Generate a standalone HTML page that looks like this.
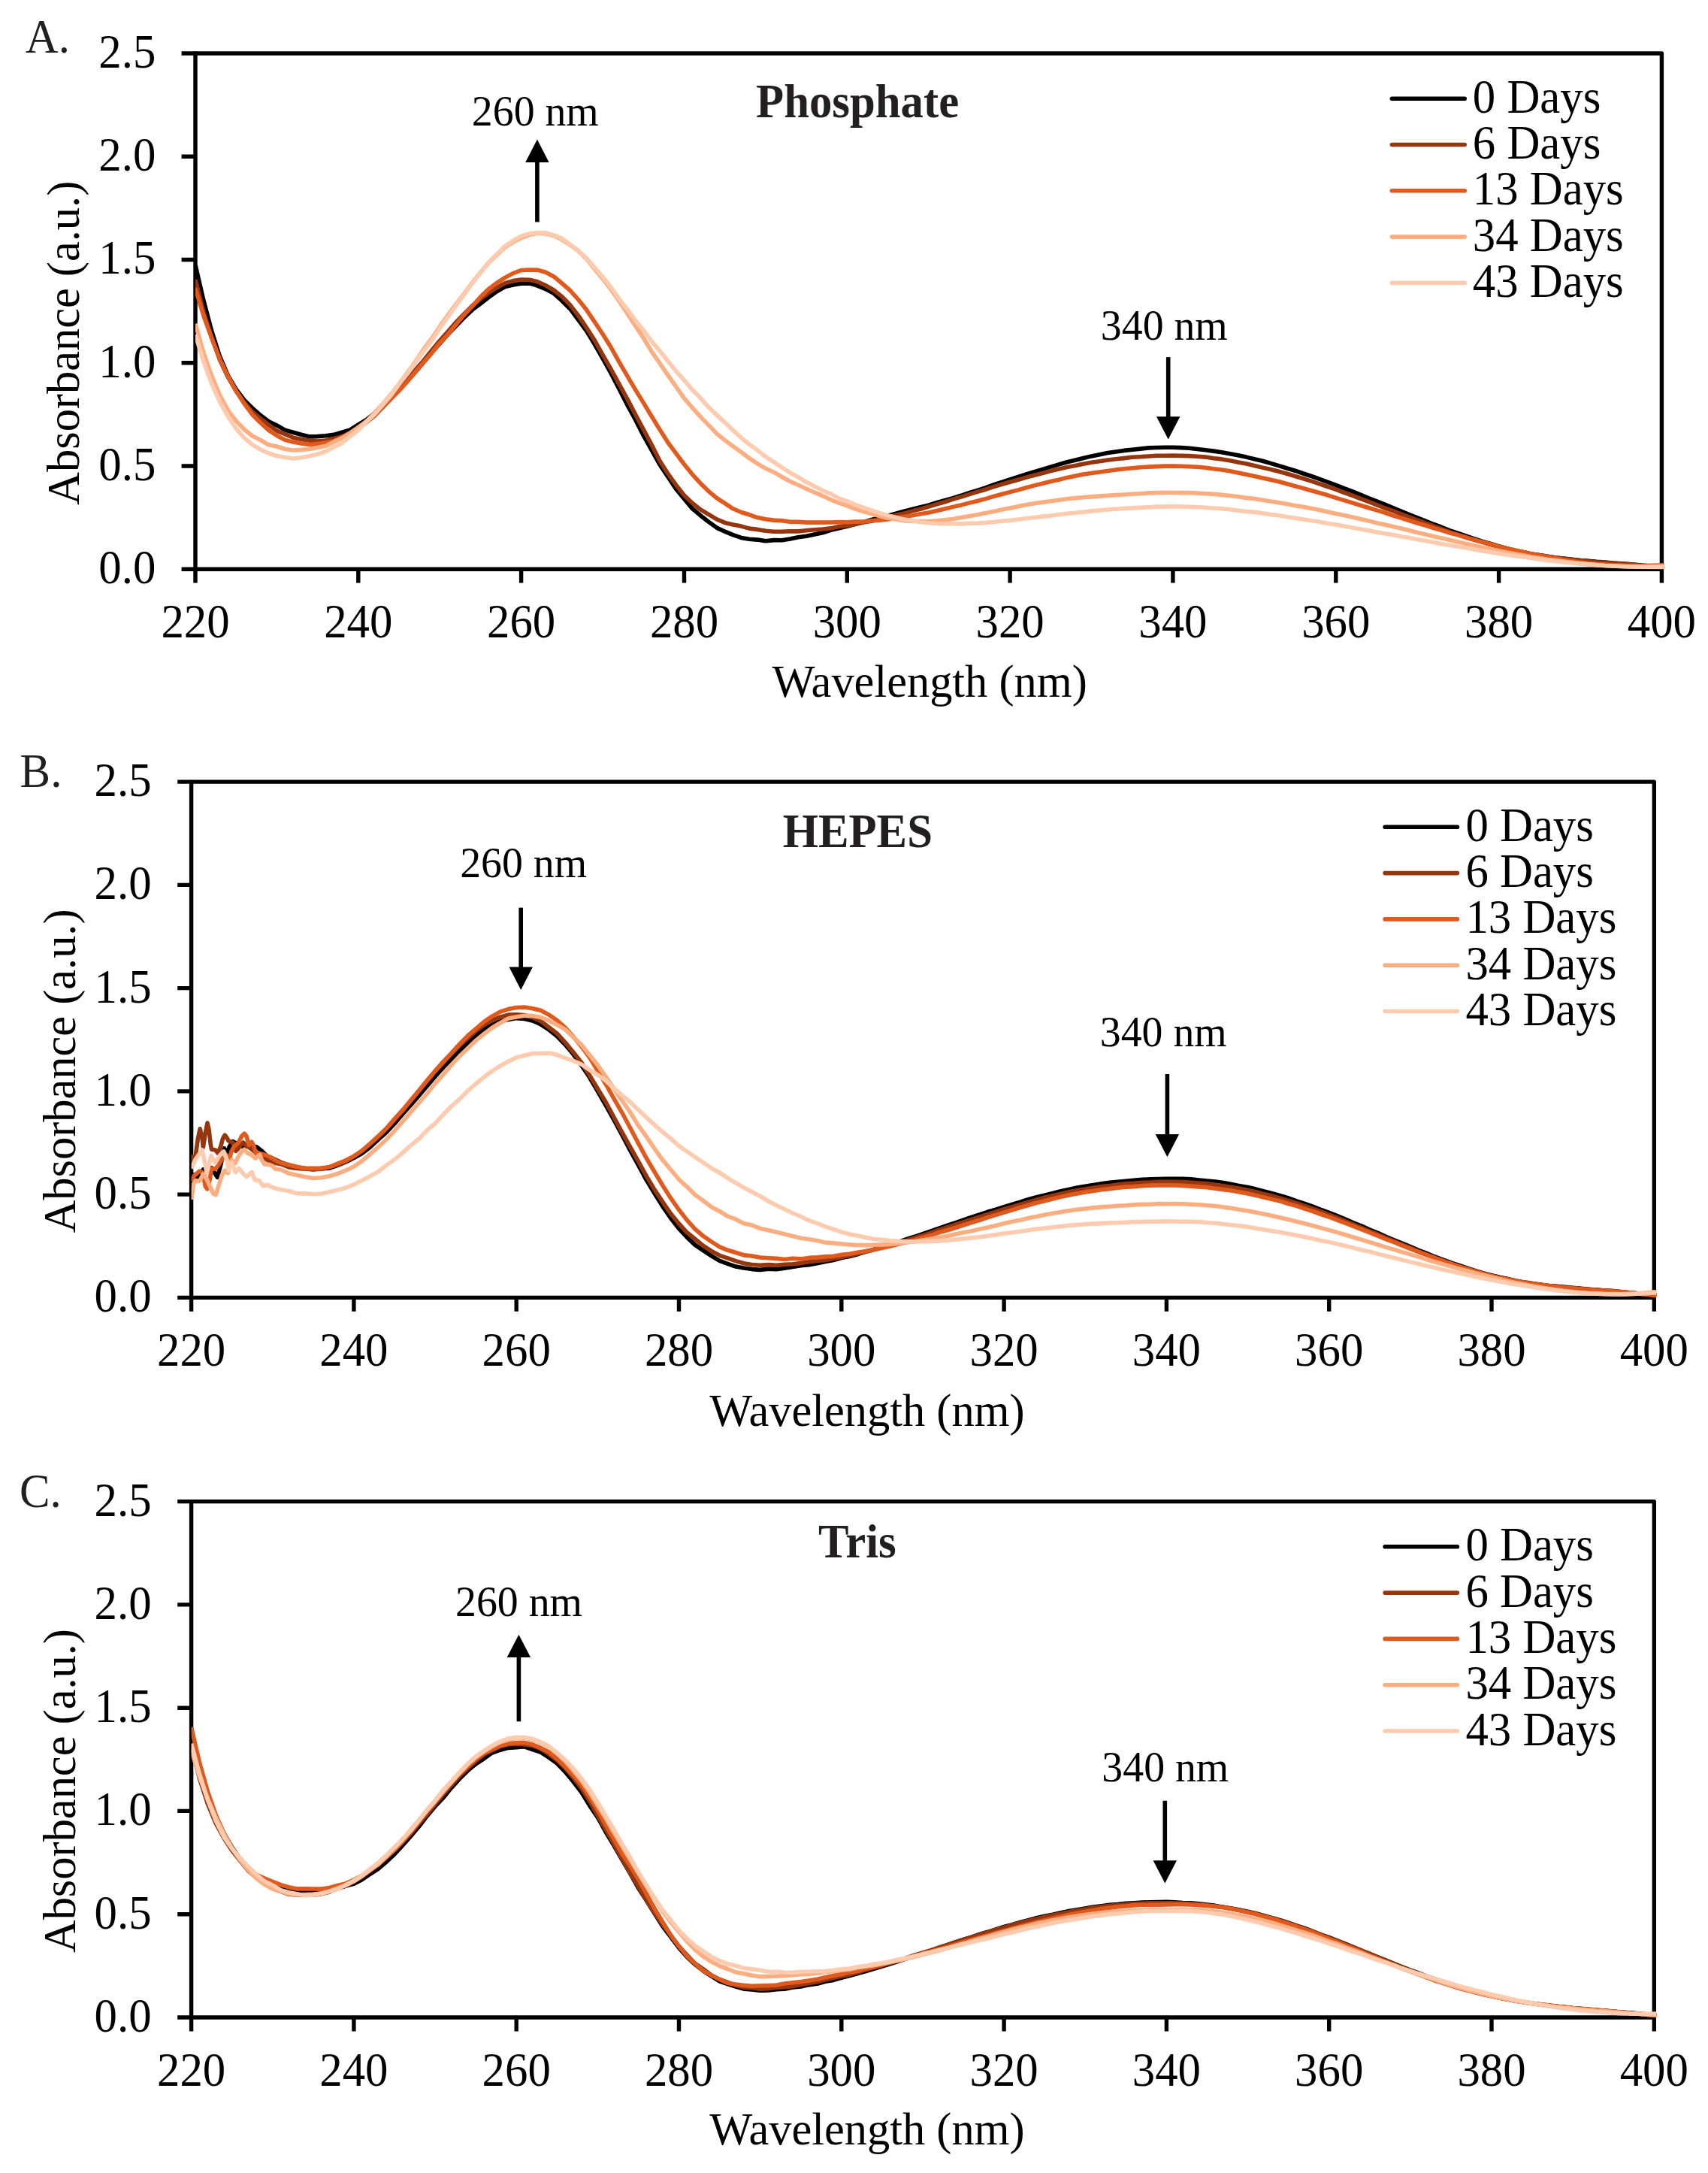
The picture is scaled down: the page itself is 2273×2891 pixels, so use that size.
<!DOCTYPE html>
<html lang="en"><head><meta charset="utf-8"><title>NADH stability spectra</title>
<style>html,body{margin:0;padding:0;background:#fff}svg{display:block}text{font-family:"Liberation Serif",serif;font-size:60.8px;fill:#000}.an{font-size:55.8px}.al{font-size:60.4px}.ti{font-weight:bold;fill:#231f20}.ax{stroke:#000;stroke-width:5.4;fill:none}.cv{fill:none;stroke-width:5.6;stroke-linejoin:round;stroke-linecap:butt}.lg{stroke-width:5.6;stroke-linecap:round}.pl{fill:#231f20}</style></head><body>
<svg width="2273" height="2891" viewBox="0 0 2273 2891">
<rect width="2273" height="2891" fill="#fff"/>
<g id="panelA">
<clipPath id="cpA"><rect x="260" y="71" width="1957.4" height="686.2"/></clipPath>
<rect class="ax" x="260" y="71" width="1951.4" height="686.2" stroke-linejoin="round"/>
<path class="ax" d="M241.6,757.2H260M241.6,620H260M241.6,482.7H260M241.6,345.5H260M241.6,208.2H260M241.6,71H260M260,757.2V775.6M476.8,757.2V775.6M693.6,757.2V775.6M910.5,757.2V775.6M1127.3,757.2V775.6M1344.1,757.2V775.6M1560.9,757.2V775.6M1777.8,757.2V775.6M1994.6,757.2V775.6M2211.4,757.2V775.6"/>
<g clip-path="url(#cpA)">
<path class="cv" stroke="#000000" d="M260,352.7 270.8,399.3 281.7,440.4 292.5,474.3 303.4,499.7 314.2,518 325,532.3 335.9,543 346.7,552.5 357.6,560.7 368.4,565.9 379.3,572.1 390.1,575.2 400.9,578.2 411.8,580.9 422.6,580.6 433.5,579.8 444.3,578.4 455.1,575.2 466,571.8 476.8,564.8 487.7,558.4 498.5,549.7 509.3,540.8 520.2,529.5 531,517.9 541.9,505.9 552.7,494.9 563.6,482.2 574.4,468.8 585.2,457.1 596.1,444.8 606.9,433.6 617.8,422.3 628.6,412.1 639.4,404 650.3,395.6 661.1,387.8 672,381.5 682.8,379.1 693.6,377.2 704.5,376.9 715.3,380.1 726.2,384.6 737,390.4 747.9,400.2 758.7,410.9 769.5,425.2 780.4,440 791.2,457.8 802.1,476.8 812.9,496.2 823.7,517 834.6,538.3 845.4,558 856.3,579.4 867.1,598.7 877.9,617.9 888.8,634.2 899.6,650.5 910.5,663.6 921.3,676.6 932.1,685.7 943,694.2 953.8,702.1 964.7,707.2 975.5,711.7 986.4,715.4 997.2,717.3 1008,718.1 1018.9,719.8 1029.7,718.6 1040.6,718.8 1051.4,717 1062.2,714.8 1073.1,713.3 1083.9,711 1094.8,708.8 1105.6,705.3 1116.4,702.7 1127.3,700.2 1138.1,697.2 1149,694.6 1159.8,691.4 1170.7,688.6 1181.5,686.2 1192.3,683.2 1203.2,680.3 1214,677.5 1224.9,674.7 1235.7,672.1 1246.5,668.7 1257.4,665.6 1268.2,662.6 1279.1,659.3 1289.9,655.6 1300.7,652.4 1311.6,649 1322.4,645 1333.3,641.5 1344.1,637.8 1355,634.4 1365.8,630.9 1376.6,627.6 1387.5,624.4 1398.3,621.1 1409.2,617.9 1420,614.8 1430.8,612.2 1441.7,609.5 1452.5,606.9 1463.4,604.7 1474.2,602.6 1485,601 1495.9,599.4 1506.7,598.3 1517.6,597.1 1528.4,595.9 1539.3,595.5 1550.1,595.3 1560.9,595.2 1571.8,595.6 1582.6,596.3 1593.5,597.5 1604.3,598.7 1615.1,600.1 1626,601.7 1636.8,603.8 1647.7,605.7 1658.5,608.1 1669.3,610.8 1680.2,613.3 1691,616.4 1701.9,619.6 1712.7,623 1723.5,626.2 1734.4,630 1745.2,633.5 1756.1,637.3 1766.9,641.3 1777.8,645.3 1788.6,649.7 1799.4,653.7 1810.3,658.2 1821.1,662.5 1832,666.8 1842.8,671.2 1853.6,675.6 1864.5,680.1 1875.3,684.6 1886.2,688.9 1897,693.2 1907.8,697.5 1918.7,701.5 1929.5,705.8 1940.4,709.5 1951.2,713.1 1962.1,716.8 1972.9,720.4 1983.7,723.5 1994.6,726.8 2005.4,729.6 2016.3,732.4 2027.1,734.6 2037.9,736.9 2048.8,738.6 2059.6,740.2 2070.5,742 2081.3,743.1 2092.1,744.3 2103,745.5 2113.8,746.3 2124.7,747.4 2135.5,748.1 2146.4,749.1 2157.2,749.7 2168,750.5 2178.9,751.6 2189.7,752.5 2200.6,753.3 2211.4,754.6 2214.4,754.9"/>
<path class="cv" stroke="#96360f" d="M260,372.3 270.8,414.8 281.7,448.8 292.5,478.7 303.4,501.7 314.2,520.2 325,535.3 335.9,548 346.7,556.9 357.6,565.3 368.4,573.1 379.3,577.7 390.1,582.2 400.9,584.6 411.8,586.1 422.6,587 433.5,586 444.3,583.4 455.1,580.7 466,575.6 476.8,568.5 487.7,560.1 498.5,550.8 509.3,541.8 520.2,529.4 531,518.2 541.9,505.1 552.7,492.3 563.6,479.8 574.4,466.3 585.2,453.3 596.1,441.2 606.9,428.7 617.8,417.4 628.6,406.7 639.4,397.8 650.3,389.6 661.1,382.7 672,376.6 682.8,373.6 693.6,372 704.5,372.2 715.3,374.7 726.2,379.8 737,386 747.9,394.6 758.7,405.7 769.5,419.6 780.4,435.9 791.2,452.6 802.1,472 812.9,490.8 823.7,510.6 834.6,530.4 845.4,551.1 856.3,571.4 867.1,591.5 877.9,613 888.8,630 899.6,645.2 910.5,658.9 921.3,669.3 932.1,677.9 943,684.4 953.8,690.8 964.7,695.4 975.5,697.9 986.4,700.1 997.2,703.1 1008,704.4 1018.9,706.2 1029.7,707.3 1040.6,707.3 1051.4,706.7 1062.2,706.9 1073.1,705.7 1083.9,704.7 1094.8,704 1105.6,702.9 1116.4,700.6 1127.3,699.4 1138.1,697.5 1149,695 1159.8,693.2 1170.7,690.8 1181.5,688 1192.3,685.2 1203.2,683.1 1214,679.9 1224.9,677.3 1235.7,674.1 1246.5,670.9 1257.4,667.8 1268.2,664.2 1279.1,661.1 1289.9,657.6 1300.7,654.4 1311.6,651.2 1322.4,647.6 1333.3,644.3 1344.1,641.2 1355,638.2 1365.8,635.1 1376.6,632.3 1387.5,629.6 1398.3,626.6 1409.2,624.1 1420,621.5 1430.8,619.6 1441.7,617.3 1452.5,615.3 1463.4,613.7 1474.2,612 1485,610.7 1495.9,609.6 1506.7,608.3 1517.6,607.7 1528.4,607 1539.3,606.3 1550.1,606.2 1560.9,606 1571.8,606.4 1582.6,606.6 1593.5,607.2 1604.3,608.1 1615.1,609.7 1626,610.9 1636.8,612.7 1647.7,614.9 1658.5,617 1669.3,619.5 1680.2,622.1 1691,624.5 1701.9,627.3 1712.7,630.3 1723.5,633.5 1734.4,636.8 1745.2,640.2 1756.1,643.9 1766.9,647.5 1777.8,651.2 1788.6,655.3 1799.4,659.1 1810.3,663.3 1821.1,667.3 1832,671.6 1842.8,675.8 1853.6,679.7 1864.5,683.9 1875.3,687.9 1886.2,692.1 1897,696 1907.8,700 1918.7,703.8 1929.5,707.8 1940.4,711.3 1951.2,714.9 1962.1,718.4 1972.9,721.3 1983.7,724.5 1994.6,727.6 2005.4,730.3 2016.3,732.8 2027.1,734.8 2037.9,737.2 2048.8,738.7 2059.6,740.5 2070.5,742.1 2081.3,743.4 2092.1,744.5 2103,745.6 2113.8,746.9 2124.7,747.8 2135.5,748.4 2146.4,749.4 2157.2,750 2168,750.9 2178.9,751.8 2189.7,753 2200.6,753.7 2211.4,754.9 2214.4,755.2"/>
<path class="cv" stroke="#e05a1e" d="M260,383.3 270.8,419.7 281.7,449.9 292.5,477.9 303.4,500.5 314.2,520.3 325,537 335.9,551.7 346.7,562.5 357.6,572.4 368.4,579.5 379.3,585.4 390.1,588 400.9,590 411.8,591.6 422.6,590.4 433.5,588.8 444.3,586.8 455.1,582.1 466,575.8 476.8,569.8 487.7,561.7 498.5,553.2 509.3,541.9 520.2,530.9 531,519.8 541.9,507.9 552.7,495.1 563.6,482.3 574.4,470.1 585.2,456.6 596.1,444.9 606.9,431.8 617.8,418.8 628.6,407.4 639.4,395 650.3,384.6 661.1,376.4 672,369.4 682.8,363.6 693.6,359.5 704.5,359 715.3,359.1 726.2,362.3 737,367.9 747.9,377 758.7,386.4 769.5,398.5 780.4,412.1 791.2,428.1 802.1,444.5 812.9,461.8 823.7,481.1 834.6,499.8 845.4,518.2 856.3,535.9 867.1,553.8 877.9,571.4 888.8,588.6 899.6,603.2 910.5,617.8 921.3,631.1 932.1,642.9 943,653.6 953.8,662.6 964.7,669.7 975.5,676.8 986.4,681.5 997.2,684.8 1008,688.6 1018.9,690.8 1029.7,692.1 1040.6,692.7 1051.4,694.2 1062.2,694.2 1073.1,695.1 1083.9,695.1 1094.8,695.1 1105.6,695 1116.4,694.6 1127.3,694.7 1138.1,694.1 1149,694 1159.8,692.8 1170.7,692.1 1181.5,691 1192.3,689.1 1203.2,687.5 1214,685.8 1224.9,683.8 1235.7,681.9 1246.5,679.5 1257.4,677 1268.2,674.4 1279.1,671.9 1289.9,669.1 1300.7,666.5 1311.6,663.6 1322.4,660.4 1333.3,657.5 1344.1,654.6 1355,651.9 1365.8,648.8 1376.6,645.9 1387.5,643.2 1398.3,640.5 1409.2,638.2 1420,635.4 1430.8,633.2 1441.7,631.1 1452.5,629.4 1463.4,627.9 1474.2,626.4 1485,624.9 1495.9,623.8 1506.7,622.7 1517.6,621.7 1528.4,621.1 1539.3,620.6 1550.1,620.1 1560.9,620.1 1571.8,620.3 1582.6,620.8 1593.5,621.3 1604.3,622.2 1615.1,623.8 1626,625 1636.8,626.8 1647.7,628.9 1658.5,631.2 1669.3,633.5 1680.2,635.9 1691,638.3 1701.9,640.8 1712.7,643.7 1723.5,646.7 1734.4,649.6 1745.2,652.8 1756.1,655.8 1766.9,658.8 1777.8,662.3 1788.6,665.6 1799.4,668.9 1810.3,672.2 1821.1,675.5 1832,678.9 1842.8,682 1853.6,685.8 1864.5,689.2 1875.3,692.5 1886.2,696 1897,699 1907.8,702.5 1918.7,705.6 1929.5,709 1940.4,711.9 1951.2,715.2 1962.1,718.2 1972.9,721.2 1983.7,724 1994.6,726.9 2005.4,729.6 2016.3,732.1 2027.1,734.4 2037.9,736.9 2048.8,738.9 2059.6,740.8 2070.5,742.8 2081.3,744.7 2092.1,746.2 2103,747.9 2113.8,749.2 2124.7,750.2 2135.5,750.9 2146.4,751.8 2157.2,752.1 2168,752.5 2178.9,752.7 2189.7,752.5 2200.6,752.2 2211.4,751.9 2214.4,752.2"/>
<path class="cv" stroke="#fdae80" d="M260,430.7 270.8,469.3 281.7,500.2 292.5,525.9 303.4,545.9 314.2,560.1 325,571.3 335.9,580 346.7,585.5 357.6,591.8 368.4,594 379.3,597.5 390.1,599 400.9,598.4 411.8,597.5 422.6,595.4 433.5,593.2 444.3,587.9 455.1,582.9 466,576.3 476.8,568.4 487.7,560.6 498.5,549.1 509.3,537.5 520.2,524.9 531,510.8 541.9,496.3 552.7,481.4 563.6,464.7 574.4,450.5 585.2,434.6 596.1,419.1 606.9,404.6 617.8,390.4 628.6,375.8 639.4,362.5 650.3,349.6 661.1,339.2 672,328.9 682.8,322.1 693.6,316.4 704.5,312.5 715.3,310.1 726.2,310.9 737,313.7 747.9,318.8 758.7,325.9 769.5,333.8 780.4,344.4 791.2,357.7 802.1,370.9 812.9,384.8 823.7,400.1 834.6,416.6 845.4,433.1 856.3,449.6 867.1,467.6 877.9,483.1 888.8,499.1 899.6,514.3 910.5,529.9 921.3,542.3 932.1,554.4 943,565.6 953.8,576.9 964.7,585.8 975.5,593.7 986.4,601.6 997.2,609.7 1008,616.8 1018.9,623.3 1029.7,628.2 1040.6,634.5 1051.4,640.5 1062.2,645.2 1073.1,650.2 1083.9,655.2 1094.8,659.7 1105.6,664.8 1116.4,669.2 1127.3,672.9 1138.1,677.2 1149,680.6 1159.8,683.6 1170.7,686.5 1181.5,689.3 1192.3,690.7 1203.2,692.7 1214,693.5 1224.9,693.5 1235.7,693.7 1246.5,692.9 1257.4,691.8 1268.2,690.5 1279.1,688.6 1289.9,686.7 1300.7,684.7 1311.6,682.6 1322.4,680.5 1333.3,678 1344.1,676 1355,673.8 1365.8,671.6 1376.6,669.8 1387.5,668.2 1398.3,666.7 1409.2,665.3 1420,663.8 1430.8,662.6 1441.7,661.8 1452.5,660.9 1463.4,660.1 1474.2,659.2 1485,658.6 1495.9,658 1506.7,657.3 1517.6,656.7 1528.4,655.9 1539.3,655.7 1550.1,655.4 1560.9,655.5 1571.8,655.6 1582.6,655.5 1593.5,656.1 1604.3,656.8 1615.1,657.4 1626,658.4 1636.8,659.5 1647.7,660.7 1658.5,662.4 1669.3,663.5 1680.2,665.2 1691,667.1 1701.9,668.7 1712.7,670.4 1723.5,672.7 1734.4,674.3 1745.2,676.6 1756.1,678.6 1766.9,681.1 1777.8,683.4 1788.6,685.5 1799.4,687.9 1810.3,690.5 1821.1,692.9 1832,695.7 1842.8,698.1 1853.6,700.6 1864.5,703.1 1875.3,705.7 1886.2,708.5 1897,710.9 1907.8,713.7 1918.7,716.1 1929.5,718.6 1940.4,720.9 1951.2,723.6 1962.1,726 1972.9,728.2 1983.7,730.6 1994.6,732.7 2005.4,735 2016.3,737 2027.1,738.7 2037.9,740.9 2048.8,742.4 2059.6,744.3 2070.5,745.6 2081.3,747.1 2092.1,748.3 2103,749.7 2113.8,750.7 2124.7,751.7 2135.5,752.5 2146.4,753 2157.2,753.5 2168,753.8 2178.9,753.8 2189.7,753.9 2200.6,753.5 2211.4,753.1 2214.4,753.4"/>
<path class="cv" stroke="#fecbaf" d="M260,444.9 270.8,480.9 281.7,510.7 292.5,534.4 303.4,554.2 314.2,570.2 325,582.6 335.9,591.6 346.7,598.2 357.6,603 368.4,606.5 379.3,608.5 390.1,610.1 400.9,608.7 411.8,606.8 422.6,604.3 433.5,600.5 444.3,594.7 455.1,589.4 466,580.5 476.8,572.2 487.7,561.3 498.5,551.2 509.3,538.6 520.2,526 531,511.1 541.9,497.5 552.7,482.5 563.6,467.3 574.4,453.4 585.2,436.7 596.1,421.7 606.9,406.3 617.8,391.5 628.6,376.6 639.4,362.8 650.3,349.1 661.1,338.4 672,327.3 682.8,320.3 693.6,314.2 704.5,310.9 715.3,309.7 726.2,309.8 737,313 747.9,317.2 758.7,325.2 769.5,333.3 780.4,343.6 791.2,355.9 802.1,368.3 812.9,382 823.7,397.4 834.6,411.2 845.4,426.2 856.3,439.3 867.1,453.9 877.9,466.9 888.8,480.4 899.6,493.8 910.5,505.9 921.3,518.6 932.1,529.3 943,541.8 953.8,552.1 964.7,562.1 975.5,572.5 986.4,582.4 997.2,591.3 1008,599.1 1018.9,607.7 1029.7,614.7 1040.6,622 1051.4,628.9 1062.2,634.7 1073.1,641.6 1083.9,646.9 1094.8,652.6 1105.6,657.1 1116.4,662.9 1127.3,666.9 1138.1,671.3 1149,675.4 1159.8,679 1170.7,682.6 1181.5,685.9 1192.3,688.5 1203.2,691.1 1214,692.8 1224.9,694.5 1235.7,695.8 1246.5,696.5 1257.4,696.9 1268.2,696.8 1279.1,696.9 1289.9,696.3 1300.7,696.1 1311.6,695.4 1322.4,694.5 1333.3,693.3 1344.1,692.4 1355,691 1365.8,689.7 1376.6,688.5 1387.5,687.1 1398.3,686.2 1409.2,684.5 1420,683.3 1430.8,682.2 1441.7,681.2 1452.5,679.9 1463.4,679 1474.2,678 1485,677.2 1495.9,676.5 1506.7,675.9 1517.6,675.4 1528.4,674.7 1539.3,674 1550.1,674.1 1560.9,673.9 1571.8,674 1582.6,674.3 1593.5,674.5 1604.3,675.2 1615.1,676 1626,676.8 1636.8,677.8 1647.7,679.3 1658.5,680.5 1669.3,681.4 1680.2,682.8 1691,684.6 1701.9,685.7 1712.7,687.7 1723.5,689.2 1734.4,691 1745.2,692.8 1756.1,694.2 1766.9,696.4 1777.8,697.9 1788.6,700 1799.4,702 1810.3,703.9 1821.1,705.7 1832,707.9 1842.8,709.7 1853.6,711.5 1864.5,713.8 1875.3,715.4 1886.2,717.7 1897,719.4 1907.8,721.4 1918.7,723.7 1929.5,725.4 1940.4,727.3 1951.2,729.1 1962.1,730.9 1972.9,732.9 1983.7,734.6 1994.6,736.5 2005.4,738 2016.3,739.7 2027.1,741 2037.9,742.5 2048.8,744.2 2059.6,745.6 2070.5,746.8 2081.3,748 2092.1,749 2103,749.9 2113.8,750.8 2124.7,751.6 2135.5,752.5 2146.4,753 2157.2,753.5 2168,754 2178.9,754.2 2189.7,754.6 2200.6,754.9 2211.4,754.6 2214.4,754.9"/>
</g>
<text transform="translate(207.3,776.1) scale(1,1.03)" text-anchor="end">0.0</text>
<text transform="translate(207.3,638.9) scale(1,1.03)" text-anchor="end">0.5</text>
<text transform="translate(207.3,501.6) scale(1,1.03)" text-anchor="end">1.0</text>
<text transform="translate(207.3,364.4) scale(1,1.03)" text-anchor="end">1.5</text>
<text transform="translate(207.3,227.1) scale(1,1.03)" text-anchor="end">2.0</text>
<text transform="translate(207.3,89.9) scale(1,1.03)" text-anchor="end">2.5</text>
<text transform="translate(260,847.7) scale(1,1.03)" text-anchor="middle">220</text>
<text transform="translate(476.8,847.7) scale(1,1.03)" text-anchor="middle">240</text>
<text transform="translate(693.6,847.7) scale(1,1.03)" text-anchor="middle">260</text>
<text transform="translate(910.5,847.7) scale(1,1.03)" text-anchor="middle">280</text>
<text transform="translate(1127.3,847.7) scale(1,1.03)" text-anchor="middle">300</text>
<text transform="translate(1344.1,847.7) scale(1,1.03)" text-anchor="middle">320</text>
<text transform="translate(1560.9,847.7) scale(1,1.03)" text-anchor="middle">340</text>
<text transform="translate(1777.8,847.7) scale(1,1.03)" text-anchor="middle">360</text>
<text transform="translate(1994.6,847.7) scale(1,1.03)" text-anchor="middle">380</text>
<text transform="translate(2211.4,847.7) scale(1,1.03)" text-anchor="middle">400</text>
<text transform="translate(1237.1,926.7) scale(1,1.03)" class="al" text-anchor="middle">Wavelength (nm)</text>
<text transform="translate(104.7,456.2) rotate(-90) scale(1,1.03)" class="al" text-anchor="middle">Absorbance (a.u.)</text>
<text transform="translate(33.8,70.3) scale(1,1.03)" class="pl">A.</text>
<text transform="translate(1141.1,156.4) scale(1,1.03)" class="ti" text-anchor="middle">Phosphate</text>
<text transform="translate(712.3,166.6) scale(1,1.03)" class="an" text-anchor="middle">260 nm</text>
<path d="M714.9,295.4V214.9" stroke="#000" stroke-width="5.6" fill="none"/>
<path d="M714.9,185.6L699.2,215.9L730.6,215.9Z" fill="#000"/>
<text transform="translate(1549.3,451.7) scale(1,1.03)" class="an" text-anchor="middle">340 nm</text>
<path d="M1554.7,475.1V555.3" stroke="#000" stroke-width="5.6" fill="none"/>
<path d="M1554.7,584.6L1539,554.3L1570.4,554.3Z" fill="#000"/>
<path class="lg" stroke="#000000" d="M1852.4,131.2H1949.2"/>
<text transform="translate(1959.8,149.7) scale(1,1.03)">0 Days</text>
<path class="lg" stroke="#96360f" d="M1852.4,192.5H1949.2"/>
<text transform="translate(1959.8,211) scale(1,1.03)">6 Days</text>
<path class="lg" stroke="#e05a1e" d="M1852.4,253.8H1949.2"/>
<text transform="translate(1959.8,272.3) scale(1,1.03)">13 Days</text>
<path class="lg" stroke="#fdae80" d="M1852.4,315.1H1949.2"/>
<text transform="translate(1959.8,333.6) scale(1,1.03)">34 Days</text>
<path class="lg" stroke="#fecbaf" d="M1852.4,376.4H1949.2"/>
<text transform="translate(1959.8,394.9) scale(1,1.03)">43 Days</text>
</g>
<g id="panelB">
<clipPath id="cpB"><rect x="254.6" y="1040.1" width="1952.7" height="686.3"/></clipPath>
<rect class="ax" x="254.6" y="1040.1" width="1946.7" height="686.3" stroke-linejoin="round"/>
<path class="ax" d="M236.2,1726.4H254.6M236.2,1589.1H254.6M236.2,1451.9H254.6M236.2,1314.6H254.6M236.2,1177.4H254.6M236.2,1040.1H254.6M254.6,1726.4V1744.8M470.9,1726.4V1744.8M687.2,1726.4V1744.8M903.5,1726.4V1744.8M1119.8,1726.4V1744.8M1336.1,1726.4V1744.8M1552.4,1726.4V1744.8M1768.7,1726.4V1744.8M1985,1726.4V1744.8M2201.3,1726.4V1744.8"/>
<g clip-path="url(#cpB)">
<path class="cv" stroke="#000000" d="M254.6,1564.3 258.4,1562.9 264.1,1568.5 270.4,1555.9 274.6,1560.8 281.6,1553.8 289.3,1566.4 293.6,1550.3 298.5,1527.8 302,1535.5 305.5,1525 309.7,1518.6 316.7,1522.2 323.8,1525.7 330.8,1525 341.3,1525.7 348.4,1531.3 355.4,1538.3 362.4,1541.1 373.6,1546.4 384.4,1550.1 395.2,1552.9 406,1554.4 416.8,1555.7 427.6,1554.6 438.5,1554.1 449.3,1550.3 460.1,1546 470.9,1540.5 481.7,1534.5 492.5,1526.2 503.3,1516.1 514.2,1506.3 525,1494.9 535.8,1482.2 546.6,1470.2 557.4,1457.6 568.2,1445 579.1,1432.1 589.9,1420.1 600.7,1409.2 611.5,1398 622.3,1387.8 633.1,1377.9 643.9,1369.8 654.8,1363.5 665.6,1358.8 676.4,1356.6 687.2,1354.6 698,1355.5 708.8,1358 719.6,1362.8 730.5,1370 741.3,1378.5 752.1,1389.7 762.9,1402.5 773.7,1417.3 784.5,1433.3 795.4,1451.9 806.2,1470.7 817,1489.8 827.8,1509.8 838.6,1530.4 849.4,1549.9 860.2,1569.8 871.1,1587.7 881.9,1605.1 892.7,1620.7 903.5,1634.6 914.3,1646.1 925.1,1656.4 935.9,1663.6 946.8,1670.9 957.6,1677.4 968.4,1681.3 979.2,1685.1 990,1687 1000.8,1688.6 1011.7,1689.4 1022.5,1688.1 1033.3,1688.6 1044.1,1687.2 1054.9,1685.5 1065.7,1683.7 1076.5,1682.8 1087.4,1680.7 1098.2,1678.6 1109,1676.6 1119.8,1673.6 1130.6,1671.6 1141.4,1668.7 1152.2,1665.2 1163.1,1662.3 1173.9,1658.9 1184.7,1655.7 1195.5,1652.3 1206.3,1648.6 1217.1,1645.3 1228,1641.6 1238.8,1637.9 1249.6,1634.2 1260.4,1630.5 1271.2,1627 1282,1623.2 1292.8,1619.5 1303.7,1615.8 1314.5,1612.3 1325.3,1609.1 1336.1,1605.7 1346.9,1602.3 1357.7,1599.1 1368.5,1595.6 1379.4,1592.7 1390.2,1590.1 1401,1587.4 1411.8,1584.8 1422.6,1582.4 1433.4,1580.1 1444.2,1578.3 1455.1,1576.5 1465.9,1574.8 1476.7,1573.4 1487.5,1572.3 1498.3,1571.3 1509.1,1570.2 1520,1569.4 1530.8,1568.9 1541.6,1568.5 1552.4,1568.3 1563.2,1568.4 1574,1568.4 1584.8,1568.9 1595.7,1570 1606.5,1571.1 1617.3,1572.1 1628.1,1573.5 1638.9,1575.6 1649.7,1577.7 1660.6,1579.6 1671.4,1582.1 1682.2,1585 1693,1587.8 1703.8,1590.7 1714.6,1594 1725.4,1597.8 1736.3,1601.5 1747.1,1605.2 1757.9,1609.5 1768.7,1613.4 1779.5,1617.6 1790.3,1622.2 1801.1,1626.9 1812,1631.1 1822.8,1636.1 1833.6,1640.4 1844.4,1645.3 1855.2,1649.8 1866,1654.2 1876.9,1658.7 1887.7,1663.3 1898.5,1667.4 1909.3,1672 1920.1,1675.8 1930.9,1679.9 1941.7,1683.4 1952.6,1687.1 1963.4,1690.6 1974.2,1693.9 1985,1696.6 1995.8,1699.3 2006.6,1701.5 2017.4,1704 2028.3,1705.9 2039.1,1707.4 2049.9,1708.9 2060.7,1710.5 2071.5,1711.4 2082.3,1712.4 2093.2,1713.4 2104,1714.3 2114.8,1715.2 2125.6,1716.2 2136.4,1717 2147.2,1717.6 2158,1718.7 2168.9,1719.7 2179.7,1720.7 2190.5,1721.8 2201.3,1723.1 2204.3,1723.4"/>
<path class="cv" stroke="#96360f" d="M254.6,1536.2 257,1545.3 260.5,1536.2 263.3,1515.1 266.2,1501.8 269,1513.7 270.4,1526.4 273.2,1508.1 276,1494.1 278.1,1503.2 280.2,1522.2 281.6,1529.2 286.5,1529.9 290,1534.1 293.6,1525.7 296.4,1515.1 299.2,1510.2 302,1513.7 304.1,1517.9 309.7,1520 311.8,1525 313.9,1531.3 316.7,1528.5 320.3,1523.6 323.8,1520 327.3,1523.6 334.3,1528.5 341.3,1534.1 348.4,1538.3 355.4,1543.2 362.4,1546.4 373.6,1548.7 384.4,1552.9 395.2,1554.5 406,1555.3 416.8,1555.8 427.6,1555.2 438.5,1552.6 449.3,1549.8 460.1,1545.3 470.9,1538.6 481.7,1531.2 492.5,1522.1 503.3,1512.8 514.2,1501.6 525,1489.8 535.8,1477.8 546.6,1464.3 557.4,1451.4 568.2,1438.6 579.1,1425.3 589.9,1414 600.7,1401.8 611.5,1391 622.3,1381.1 633.1,1371.7 643.9,1363.7 654.8,1357.3 665.6,1353.2 676.4,1350.1 687.2,1349.7 698,1350.5 708.8,1353.7 719.6,1358.4 730.5,1366.8 741.3,1374.9 752.1,1386.8 762.9,1399.9 773.7,1413.6 784.5,1430.5 795.4,1448.5 806.2,1466.2 817,1486.5 827.8,1506.3 838.6,1525.8 849.4,1544.8 860.2,1564.6 871.1,1582.9 881.9,1599.1 892.7,1614.8 903.5,1628 914.3,1639.8 925.1,1648.5 935.9,1657.4 946.8,1664.4 957.6,1670.3 968.4,1673.9 979.2,1677.6 990,1680.8 1000.8,1682.5 1011.7,1683.2 1022.5,1682.6 1033.3,1683.3 1044.1,1682.2 1054.9,1681.7 1065.7,1680.6 1076.5,1678.8 1087.4,1677.5 1098.2,1676.7 1109,1674.5 1119.8,1672.5 1130.6,1670.5 1141.4,1667.9 1152.2,1665.3 1163.1,1662.6 1173.9,1660.1 1184.7,1656.6 1195.5,1653.7 1206.3,1650.4 1217.1,1646.7 1228,1643.7 1238.8,1640.1 1249.6,1636.5 1260.4,1633 1271.2,1629.3 1282,1626 1292.8,1622.3 1303.7,1618.9 1314.5,1615.7 1325.3,1612.1 1336.1,1608.8 1346.9,1605.6 1357.7,1602.4 1368.5,1599.4 1379.4,1596.3 1390.2,1593.3 1401,1590.8 1411.8,1588.2 1422.6,1585.8 1433.4,1583.7 1444.2,1582.1 1455.1,1580.2 1465.9,1578.6 1476.7,1577.5 1487.5,1576 1498.3,1574.9 1509.1,1574.2 1520,1573.4 1530.8,1573 1541.6,1572.4 1552.4,1572.2 1563.2,1572.3 1574,1572.6 1584.8,1573.2 1595.7,1574 1606.5,1574.9 1617.3,1576.2 1628.1,1577.7 1638.9,1579.5 1649.7,1581.3 1660.6,1583.4 1671.4,1585.8 1682.2,1588.6 1693,1591.1 1703.8,1594.3 1714.6,1597.5 1725.4,1600.6 1736.3,1604.5 1747.1,1608.2 1757.9,1611.9 1768.7,1616.1 1779.5,1620.1 1790.3,1624.6 1801.1,1629 1812,1633.5 1822.8,1638.1 1833.6,1642.3 1844.4,1647.1 1855.2,1651.4 1866,1655.8 1876.9,1660.2 1887.7,1664.8 1898.5,1668.8 1909.3,1673 1920.1,1677 1930.9,1681.1 1941.7,1684.6 1952.6,1688.1 1963.4,1691.5 1974.2,1694.6 1985,1697.6 1995.8,1700 2006.6,1702.3 2017.4,1704.4 2028.3,1706.4 2039.1,1708.1 2049.9,1709.6 2060.7,1710.6 2071.5,1712 2082.3,1713.1 2093.2,1713.7 2104,1714.7 2114.8,1715.6 2125.6,1716.1 2136.4,1717.1 2147.2,1717.8 2158,1718.9 2168.9,1720 2179.7,1720.9 2190.5,1722 2201.3,1723.1 2204.3,1723.4"/>
<path class="cv" stroke="#e05a1e" d="M254.6,1571.3 258.4,1564.3 265.5,1558 270.4,1560.8 273.2,1578.4 276,1581.9 279.5,1567.8 281.6,1554.5 286.5,1555.2 290.7,1550.3 295.7,1541.8 300.6,1536.2 305.5,1541.1 308.3,1531.3 311.8,1525 317.4,1520 321.7,1511.6 325.2,1508.1 328,1511.6 331.5,1523.6 335,1519.3 337.8,1525 340.6,1534.8 344.8,1534.1 351.9,1536.2 358.9,1539 365.9,1543.2 373.6,1547 384.4,1549.7 395.2,1552.2 406,1554.4 416.8,1554.4 427.6,1554.1 438.5,1552.6 449.3,1548 460.1,1543.8 470.9,1538.2 481.7,1531 492.5,1521.5 503.3,1511.5 514.2,1501.3 525,1488.6 535.8,1476.9 546.6,1464.1 557.4,1451 568.2,1437.6 579.1,1424.8 589.9,1412.4 600.7,1401.2 611.5,1389.2 622.3,1378.2 633.1,1368.8 643.9,1359.6 654.8,1352.1 665.6,1346.1 676.4,1342.6 687.2,1340.5 698,1340 708.8,1341.8 719.6,1344.2 730.5,1350.1 741.3,1357.5 752.1,1367.1 762.9,1379.2 773.7,1392.2 784.5,1406.8 795.4,1424.6 806.2,1442.5 817,1461.7 827.8,1480.3 838.6,1500.5 849.4,1520.9 860.2,1540.8 871.1,1559.2 881.9,1577.2 892.7,1594.2 903.5,1609.5 914.3,1623.4 925.1,1635.4 935.9,1644.5 946.8,1652 957.6,1658.8 968.4,1663.3 979.2,1666.5 990,1669.9 1000.8,1671 1011.7,1673 1022.5,1673.7 1033.3,1674.4 1044.1,1675.5 1054.9,1674.3 1065.7,1674.9 1076.5,1673.4 1087.4,1672.9 1098.2,1671.9 1109,1671.3 1119.8,1669.4 1130.6,1668.2 1141.4,1666.3 1152.2,1664.6 1163.1,1662.4 1173.9,1660.3 1184.7,1658.1 1195.5,1655.4 1206.3,1652.5 1217.1,1649.6 1228,1646.2 1238.8,1643.4 1249.6,1639.8 1260.4,1636.8 1271.2,1633.5 1282,1630 1292.8,1626.5 1303.7,1623.3 1314.5,1619.7 1325.3,1616.3 1336.1,1613.1 1346.9,1609.9 1357.7,1606.5 1368.5,1603.5 1379.4,1600.4 1390.2,1597.7 1401,1595 1411.8,1592.4 1422.6,1590 1433.4,1588 1444.2,1585.9 1455.1,1584.5 1465.9,1582.8 1476.7,1581.6 1487.5,1580.2 1498.3,1579.1 1509.1,1578.6 1520,1577.8 1530.8,1577.1 1541.6,1576.9 1552.4,1576.9 1563.2,1576.9 1574,1577.4 1584.8,1578.1 1595.7,1578.9 1606.5,1579.7 1617.3,1581.2 1628.1,1582.6 1638.9,1584 1649.7,1585.9 1660.6,1588.1 1671.4,1590.4 1682.2,1593 1693,1595.6 1703.8,1598.1 1714.6,1601.5 1725.4,1604.4 1736.3,1608.2 1747.1,1611.7 1757.9,1615.5 1768.7,1619.1 1779.5,1623.1 1790.3,1627.1 1801.1,1631.4 1812,1635.7 1822.8,1639.8 1833.6,1644.2 1844.4,1648.6 1855.2,1652.7 1866,1657.2 1876.9,1661.3 1887.7,1665.6 1898.5,1669.7 1909.3,1673.6 1920.1,1677.6 1930.9,1681.2 1941.7,1685 1952.6,1688.2 1963.4,1691.4 1974.2,1694.7 1985,1697.5 1995.8,1699.9 2006.6,1702 2017.4,1704.2 2028.3,1706.2 2039.1,1707.8 2049.9,1709.3 2060.7,1710.4 2071.5,1711.9 2082.3,1713 2093.2,1713.7 2104,1714.8 2114.8,1715.7 2125.6,1716.7 2136.4,1717.3 2147.2,1718.1 2158,1718.9 2168.9,1719.8 2179.7,1721 2190.5,1722.1 2201.3,1723.6 2204.3,1723.9"/>
<path class="cv" stroke="#fdae80" d="M254.6,1595.9 257.7,1574.8 260.5,1570.6 265.5,1571.3 270.4,1562.2 274.6,1567.8 279.5,1578.4 283.7,1588.2 287.2,1589.6 290.7,1578.4 295,1564.3 299.2,1557.3 303.4,1560.8 306.2,1548.9 308.3,1543.2 313.2,1547.4 316.7,1539.7 321.7,1532 325.2,1529.2 329.4,1534.1 334.3,1536.2 339.9,1541.1 345.6,1536.2 348.4,1543.2 351.9,1548.9 358.9,1549.6 362.4,1551 366.6,1555.2 373.6,1556 384.4,1561.1 395.2,1563.5 406,1565.7 416.8,1567.5 427.6,1566.8 438.5,1564.7 449.3,1561.5 460.1,1557.2 470.9,1552 481.7,1544.6 492.5,1535.5 503.3,1526.1 514.2,1516 525,1504.5 535.8,1492.2 546.6,1479.6 557.4,1467.3 568.2,1454.7 579.1,1441.5 589.9,1429.6 600.7,1416.9 611.5,1405.3 622.3,1395 633.1,1384.4 643.9,1375.8 654.8,1367.5 665.6,1361 676.4,1355.1 687.2,1352.9 698,1351.3 708.8,1351.4 719.6,1353.5 730.5,1357.9 741.3,1363.4 752.1,1369.6 762.9,1379.9 773.7,1390.1 784.5,1403.6 795.4,1417 806.2,1432.5 817,1448.3 827.8,1464.3 838.6,1479.7 849.4,1497.3 860.2,1512.1 871.1,1528.3 881.9,1543.4 892.7,1556.2 903.5,1569.3 914.3,1579.1 925.1,1589.7 935.9,1597.5 946.8,1605.9 957.6,1611.5 968.4,1618.2 979.2,1622.2 990,1627.7 1000.8,1630.1 1011.7,1634.4 1022.5,1636.7 1033.3,1639.3 1044.1,1641.9 1054.9,1644.5 1065.7,1647.2 1076.5,1648.7 1087.4,1650.5 1098.2,1653.1 1109,1653.9 1119.8,1655 1130.6,1655.9 1141.4,1656.5 1152.2,1656.6 1163.1,1656.3 1173.9,1655.9 1184.7,1655.5 1195.5,1654.4 1206.3,1653 1217.1,1651.8 1228,1650 1238.8,1648.2 1249.6,1646.3 1260.4,1644.5 1271.2,1642 1282,1639.8 1292.8,1637.7 1303.7,1635.3 1314.5,1632.9 1325.3,1630.4 1336.1,1627.8 1346.9,1625.2 1357.7,1623.2 1368.5,1620.6 1379.4,1618.5 1390.2,1616.2 1401,1614.3 1411.8,1612.4 1422.6,1610.7 1433.4,1609.3 1444.2,1608.1 1455.1,1606.9 1465.9,1605.9 1476.7,1605.2 1487.5,1604.3 1498.3,1603.8 1509.1,1602.9 1520,1602.4 1530.8,1602.2 1541.6,1601.6 1552.4,1601.7 1563.2,1601.6 1574,1601.7 1584.8,1602.3 1595.7,1602.7 1606.5,1603.7 1617.3,1604.5 1628.1,1606.1 1638.9,1607.4 1649.7,1609.3 1660.6,1610.9 1671.4,1613 1682.2,1615.2 1693,1617.4 1703.8,1619.9 1714.6,1622.5 1725.4,1625.2 1736.3,1627.8 1747.1,1630.8 1757.9,1633.6 1768.7,1636.6 1779.5,1639.6 1790.3,1642.8 1801.1,1646.2 1812,1649.3 1822.8,1652.7 1833.6,1656 1844.4,1659.4 1855.2,1662.4 1866,1665.8 1876.9,1668.9 1887.7,1672.1 1898.5,1675.7 1909.3,1678.8 1920.1,1681.9 1930.9,1684.9 1941.7,1688.1 1952.6,1690.8 1963.4,1694 1974.2,1696.4 1985,1699.2 1995.8,1701.8 2006.6,1704.4 2017.4,1706.7 2028.3,1708.7 2039.1,1711.1 2049.9,1712.8 2060.7,1714.6 2071.5,1716 2082.3,1717.6 2093.2,1718.7 2104,1719.7 2114.8,1720.8 2125.6,1721.2 2136.4,1721.5 2147.2,1721.6 2158,1721.9 2168.9,1721.4 2179.7,1720.7 2190.5,1720 2201.3,1718.9 2204.3,1719.2"/>
<path class="cv" stroke="#fecbaf" d="M254.6,1554.5 260.5,1541.8 269,1529.9 273.2,1550.3 275.3,1560.8 280.9,1537.6 283.7,1543.2 286.5,1546.7 292.2,1537.6 297.8,1532 302,1543.2 304.1,1557.3 308.3,1546.7 313.2,1559.4 318.1,1554.5 323.1,1560.8 328,1565.7 335,1559.4 339.2,1569.9 344.8,1570.6 349.8,1577.7 356.8,1576.3 362.4,1579.8 373.6,1582.8 384.4,1584.5 395.2,1587.9 406,1587.7 416.8,1588.8 427.6,1588.2 438.5,1585.7 449.3,1583.1 460.1,1580.3 470.9,1575.9 481.7,1570.5 492.5,1564.7 503.3,1558.9 514.2,1550.2 525,1542.7 535.8,1533.7 546.6,1523.9 557.4,1515.3 568.2,1503.8 579.1,1494.5 589.9,1482.8 600.7,1471.8 611.5,1462.4 622.3,1451.4 633.1,1442 643.9,1433.3 654.8,1425 665.6,1418.1 676.4,1412.1 687.2,1407 698,1404.2 708.8,1401.5 719.6,1401.5 730.5,1401.1 741.3,1403.3 752.1,1407.6 762.9,1411.3 773.7,1416 784.5,1423.4 795.4,1430 806.2,1437.8 817,1447.9 827.8,1457.3 838.6,1466.2 849.4,1476.5 860.2,1486.6 871.1,1496.8 881.9,1506.1 892.7,1514.9 903.5,1524.6 914.3,1532 925.1,1539.5 935.9,1546.8 946.8,1554.2 957.6,1560.2 968.4,1567.3 979.2,1573.8 990,1580.2 1000.8,1585.7 1011.7,1591.5 1022.5,1598.1 1033.3,1603.7 1044.1,1608.8 1054.9,1614 1065.7,1618.5 1076.5,1623.8 1087.4,1627.4 1098.2,1631.8 1109,1635.4 1119.8,1639.1 1130.6,1642 1141.4,1644 1152.2,1646.5 1163.1,1648.5 1173.9,1649.4 1184.7,1650.6 1195.5,1651.3 1206.3,1651.7 1217.1,1652 1228,1651.8 1238.8,1651.4 1249.6,1650.9 1260.4,1650.1 1271.2,1649.1 1282,1648.1 1292.8,1646.9 1303.7,1645.8 1314.5,1644.4 1325.3,1642.8 1336.1,1641.1 1346.9,1639.7 1357.7,1638.4 1368.5,1636.8 1379.4,1635.1 1390.2,1634 1401,1632.8 1411.8,1631.6 1422.6,1630.4 1433.4,1629.6 1444.2,1628.7 1455.1,1628.1 1465.9,1627.6 1476.7,1627 1487.5,1626.7 1498.3,1626.2 1509.1,1625.6 1520,1625.5 1530.8,1625.2 1541.6,1625.1 1552.4,1624.8 1563.2,1625 1574,1625.2 1584.8,1625.3 1595.7,1625.8 1606.5,1626.5 1617.3,1627.3 1628.1,1628.5 1638.9,1629.8 1649.7,1630.9 1660.6,1632.3 1671.4,1634.2 1682.2,1636 1693,1637.7 1703.8,1639.6 1714.6,1641.5 1725.4,1643.5 1736.3,1645.7 1747.1,1648 1757.9,1650.4 1768.7,1652.5 1779.5,1655.1 1790.3,1657.5 1801.1,1660.1 1812,1663 1822.8,1665.3 1833.6,1668.1 1844.4,1671 1855.2,1673.4 1866,1676.1 1876.9,1678.9 1887.7,1681.5 1898.5,1683.9 1909.3,1686.5 1920.1,1689.1 1930.9,1691.5 1941.7,1693.7 1952.6,1696.1 1963.4,1698.7 1974.2,1700.8 1985,1703 1995.8,1704.9 2006.6,1706.9 2017.4,1709 2028.3,1710.6 2039.1,1712.3 2049.9,1714.2 2060.7,1715.3 2071.5,1717 2082.3,1717.8 2093.2,1719.3 2104,1720 2114.8,1720.7 2125.6,1721.1 2136.4,1721.8 2147.2,1722 2158,1722 2168.9,1721.8 2179.7,1721.2 2190.5,1720.6 2201.3,1719.8 2204.3,1720.1"/>
</g>
<text transform="translate(201.6,1745.3) scale(1,1.03)" text-anchor="end">0.0</text>
<text transform="translate(201.6,1608) scale(1,1.03)" text-anchor="end">0.5</text>
<text transform="translate(201.6,1470.8) scale(1,1.03)" text-anchor="end">1.0</text>
<text transform="translate(201.6,1333.5) scale(1,1.03)" text-anchor="end">1.5</text>
<text transform="translate(201.6,1196.3) scale(1,1.03)" text-anchor="end">2.0</text>
<text transform="translate(201.6,1059) scale(1,1.03)" text-anchor="end">2.5</text>
<text transform="translate(254.6,1816.9) scale(1,1.03)" text-anchor="middle">220</text>
<text transform="translate(470.9,1816.9) scale(1,1.03)" text-anchor="middle">240</text>
<text transform="translate(687.2,1816.9) scale(1,1.03)" text-anchor="middle">260</text>
<text transform="translate(903.5,1816.9) scale(1,1.03)" text-anchor="middle">280</text>
<text transform="translate(1119.8,1816.9) scale(1,1.03)" text-anchor="middle">300</text>
<text transform="translate(1336.1,1816.9) scale(1,1.03)" text-anchor="middle">320</text>
<text transform="translate(1552.4,1816.9) scale(1,1.03)" text-anchor="middle">340</text>
<text transform="translate(1768.7,1816.9) scale(1,1.03)" text-anchor="middle">360</text>
<text transform="translate(1985,1816.9) scale(1,1.03)" text-anchor="middle">380</text>
<text transform="translate(2201.3,1816.9) scale(1,1.03)" text-anchor="middle">400</text>
<text transform="translate(1154,1896.6) scale(1,1.03)" class="al" text-anchor="middle">Wavelength (nm)</text>
<text transform="translate(99.5,1424.9) rotate(-90) scale(1,1.03)" class="al" text-anchor="middle">Absorbance (a.u.)</text>
<text transform="translate(26.6,1047.1) scale(1,1.03)" class="pl">B.</text>
<text transform="translate(1141.3,1126.8) scale(1,1.03)" class="ti" text-anchor="middle">HEPES</text>
<text transform="translate(696.6,1166.6) scale(1,1.03)" class="an" text-anchor="middle">260 nm</text>
<path d="M693.2,1207.6V1287.6" stroke="#000" stroke-width="5.6" fill="none"/>
<path d="M693.2,1316.9L677.5,1286.6L708.9,1286.6Z" fill="#000"/>
<text transform="translate(1548.2,1391.7) scale(1,1.03)" class="an" text-anchor="middle">340 nm</text>
<path d="M1553.4,1429V1510" stroke="#000" stroke-width="5.6" fill="none"/>
<path d="M1553.4,1539.3L1537.7,1509L1569.1,1509Z" fill="#000"/>
<path class="lg" stroke="#000000" d="M1843.1,1100.3H1939.4"/>
<text transform="translate(1950.4,1118.8) scale(1,1.03)">0 Days</text>
<path class="lg" stroke="#96360f" d="M1843.1,1161.6H1939.4"/>
<text transform="translate(1950.4,1180.1) scale(1,1.03)">6 Days</text>
<path class="lg" stroke="#e05a1e" d="M1843.1,1222.9H1939.4"/>
<text transform="translate(1950.4,1241.4) scale(1,1.03)">13 Days</text>
<path class="lg" stroke="#fdae80" d="M1843.1,1284.2H1939.4"/>
<text transform="translate(1950.4,1302.7) scale(1,1.03)">34 Days</text>
<path class="lg" stroke="#fecbaf" d="M1843.1,1345.5H1939.4"/>
<text transform="translate(1950.4,1364) scale(1,1.03)">43 Days</text>
</g>
<g id="panelC">
<clipPath id="cpC"><rect x="254.6" y="1997.6" width="1952.7" height="686.4"/></clipPath>
<rect class="ax" x="254.6" y="1997.6" width="1946.7" height="686.4" stroke-linejoin="round"/>
<path class="ax" d="M236.2,2684H254.6M236.2,2546.7H254.6M236.2,2409.4H254.6M236.2,2272.2H254.6M236.2,2134.9H254.6M236.2,1997.6H254.6M254.6,2684V2702.4M470.9,2684V2702.4M687.2,2684V2702.4M903.5,2684V2702.4M1119.8,2684V2702.4M1336.1,2684V2702.4M1552.4,2684V2702.4M1768.7,2684V2702.4M1985,2684V2702.4M2201.3,2684V2702.4"/>
<g clip-path="url(#cpC)">
<path class="cv" stroke="#000000" d="M254.6,2319.2 265.4,2356.2 276.2,2388.5 287,2415.4 297.9,2439 308.7,2457.7 319.5,2472.9 330.3,2485.9 341.1,2496.1 351.9,2504.3 362.8,2509.6 373.6,2513 384.4,2515.3 395.2,2517.5 406,2516.9 416.8,2517.7 427.6,2516.1 438.5,2514.6 449.3,2512.5 460.1,2509 470.9,2506.2 481.7,2500.7 492.5,2493.3 503.3,2486.3 514.2,2477 525,2466.9 535.8,2455.1 546.6,2443 557.4,2430.2 568.2,2416.1 579.1,2403.1 589.9,2391.8 600.7,2378.6 611.5,2366.6 622.3,2355.9 633.1,2346.9 643.9,2339.8 654.8,2332 665.6,2328.2 676.4,2325.4 687.2,2324.6 698,2323.8 708.8,2327.5 719.6,2331.2 730.5,2338.2 741.3,2346.1 752.1,2357.2 762.9,2370.3 773.7,2384.3 784.5,2401.9 795.4,2418 806.2,2437.5 817,2455.4 827.8,2474.1 838.6,2492.3 849.4,2511.7 860.2,2528.3 871.1,2545.9 881.9,2562.8 892.7,2577 903.5,2591.3 914.3,2603.7 925.1,2613.6 935.9,2622.1 946.8,2629.2 957.6,2635.8 968.4,2639.7 979.2,2643.1 990,2646.1 1000.8,2646.9 1011.7,2648.3 1022.5,2648 1033.3,2646.7 1044.1,2646.2 1054.9,2644 1065.7,2642.9 1076.5,2640.6 1087.4,2639.2 1098.2,2636.3 1109,2634.4 1119.8,2631.4 1130.6,2628.6 1141.4,2625.5 1152.2,2622.6 1163.1,2619.4 1173.9,2616 1184.7,2612.7 1195.5,2609.4 1206.3,2605.5 1217.1,2601.9 1228,2598.4 1238.8,2595.1 1249.6,2591.1 1260.4,2587.6 1271.2,2584 1282,2580.4 1292.8,2577.2 1303.7,2573.5 1314.5,2570.3 1325.3,2566.8 1336.1,2563.5 1346.9,2560.7 1357.7,2557.4 1368.5,2554.7 1379.4,2551.8 1390.2,2549.3 1401,2547.2 1411.8,2544.8 1422.6,2542.6 1433.4,2540.8 1444.2,2539 1455.1,2537 1465.9,2535.8 1476.7,2534.4 1487.5,2533.6 1498.3,2532.4 1509.1,2531.7 1520,2531.1 1530.8,2530.7 1541.6,2530.6 1552.4,2530.4 1563.2,2530.9 1574,2531.5 1584.8,2531.8 1595.7,2532.9 1606.5,2534.1 1617.3,2535.4 1628.1,2537.2 1638.9,2538.9 1649.7,2540.9 1660.6,2543.3 1671.4,2545.7 1682.2,2548.8 1693,2551.8 1703.8,2554.7 1714.6,2558.1 1725.4,2561.8 1736.3,2565.4 1747.1,2569.5 1757.9,2573.8 1768.7,2577.6 1779.5,2581.9 1790.3,2586.1 1801.1,2590.5 1812,2595 1822.8,2599.4 1833.6,2603.8 1844.4,2608 1855.2,2612.6 1866,2616.9 1876.9,2621.1 1887.7,2625 1898.5,2629.3 1909.3,2632.9 1920.1,2636.7 1930.9,2640.3 1941.7,2644 1952.6,2647 1963.4,2650.1 1974.2,2652.8 1985,2655.4 1995.8,2658 2006.6,2660 2017.4,2661.9 2028.3,2663.8 2039.1,2665.3 2049.9,2666.9 2060.7,2668.1 2071.5,2669.3 2082.3,2670.4 2093.2,2671.6 2104,2672.5 2114.8,2673.3 2125.6,2674.5 2136.4,2675.1 2147.2,2676.3 2158,2677 2168.9,2677.8 2179.7,2678.7 2190.5,2679.9 2201.3,2681 2204.3,2681.3"/>
<path class="cv" stroke="#96360f" d="M254.6,2323.1 265.4,2365.9 276.2,2399.4 287,2425.4 297.9,2445.4 308.7,2462 319.5,2475.5 330.3,2488.8 341.1,2498.1 351.9,2506 362.8,2512.6 373.6,2516.3 384.4,2520.3 395.2,2520.9 406,2521.3 416.8,2521.2 427.6,2519.9 438.5,2517 449.3,2512.4 460.1,2509.1 470.9,2502.8 481.7,2497 492.5,2488.8 503.3,2481.2 514.2,2471 525,2461.2 535.8,2450.5 546.6,2439.1 557.4,2426 568.2,2414 579.1,2400 589.9,2386.9 600.7,2374.9 611.5,2362.7 622.3,2352.4 633.1,2342.8 643.9,2334.2 654.8,2328.8 665.6,2323.5 676.4,2320.7 687.2,2320.1 698,2321 708.8,2322.5 719.6,2326.7 730.5,2333.7 741.3,2341.8 752.1,2352.2 762.9,2364.9 773.7,2379.1 784.5,2395.9 795.4,2415.3 806.2,2434.5 817,2453.2 827.8,2473 838.6,2492.1 849.4,2509.8 860.2,2528.3 871.1,2545.1 881.9,2560.4 892.7,2575.1 903.5,2589.4 914.3,2601.2 925.1,2612.4 935.9,2619.8 946.8,2628.1 957.6,2633.4 968.4,2637.3 979.2,2641.3 990,2644 1000.8,2644.7 1011.7,2646.1 1022.5,2645.6 1033.3,2644.3 1044.1,2643.8 1054.9,2642.6 1065.7,2640.4 1076.5,2638.4 1087.4,2636.7 1098.2,2634 1109,2631.5 1119.8,2629.3 1130.6,2627 1141.4,2624.1 1152.2,2620.7 1163.1,2617.9 1173.9,2614.7 1184.7,2611.3 1195.5,2608.1 1206.3,2605 1217.1,2601.1 1228,2598 1238.8,2594.7 1249.6,2591.1 1260.4,2587.6 1271.2,2584.1 1282,2580.7 1292.8,2577.3 1303.7,2573.9 1314.5,2570.7 1325.3,2567.2 1336.1,2564.4 1346.9,2561.2 1357.7,2558.1 1368.5,2555.4 1379.4,2552.9 1390.2,2550.3 1401,2547.9 1411.8,2546 1422.6,2543.8 1433.4,2541.8 1444.2,2540.1 1455.1,2538.1 1465.9,2536.7 1476.7,2535.4 1487.5,2534.7 1498.3,2533.6 1509.1,2532.8 1520,2532.2 1530.8,2531.8 1541.6,2531.7 1552.4,2531.7 1563.2,2531.8 1574,2532.2 1584.8,2532.7 1595.7,2533.5 1606.5,2534.7 1617.3,2536.1 1628.1,2537.5 1638.9,2539.5 1649.7,2541.4 1660.6,2543.8 1671.4,2546.2 1682.2,2549.2 1693,2551.9 1703.8,2555.1 1714.6,2558.6 1725.4,2562.1 1736.3,2566 1747.1,2569.8 1757.9,2574.1 1768.7,2578.3 1779.5,2582.1 1790.3,2586.8 1801.1,2590.8 1812,2595.3 1822.8,2599.7 1833.6,2604 1844.4,2608.4 1855.2,2612.8 1866,2617 1876.9,2621.5 1887.7,2625.3 1898.5,2629.4 1909.3,2633.2 1920.1,2637.3 1930.9,2640.7 1941.7,2644.1 1952.6,2647.5 1963.4,2650.3 1974.2,2653.2 1985,2655.5 1995.8,2657.9 2006.6,2660.2 2017.4,2662.3 2028.3,2663.7 2039.1,2665.4 2049.9,2666.9 2060.7,2668.5 2071.5,2669.6 2082.3,2670.8 2093.2,2671.9 2104,2672.8 2114.8,2673.5 2125.6,2674.4 2136.4,2675.4 2147.2,2676.1 2158,2677.3 2168.9,2678 2179.7,2679.2 2190.5,2680 2201.3,2680.9 2204.3,2681.2"/>
<path class="cv" stroke="#e05a1e" d="M254.6,2298.1 265.4,2344.6 276.2,2382.8 287,2414 297.9,2439.3 308.7,2458.6 319.5,2473.9 330.3,2484.7 341.1,2493.9 351.9,2499.1 362.8,2503.4 373.6,2507.6 384.4,2510.7 395.2,2512.9 406,2512.9 416.8,2513 427.6,2513.1 438.5,2511.4 449.3,2508.5 460.1,2505.9 470.9,2501 481.7,2495.1 492.5,2488.2 503.3,2480.1 514.2,2471 525,2461.2 535.8,2449.8 546.6,2437.1 557.4,2423.8 568.2,2409.9 579.1,2397.3 589.9,2384.1 600.7,2371.2 611.5,2359.9 622.3,2350.1 633.1,2340.4 643.9,2332.5 654.8,2327.2 665.6,2322.6 676.4,2319.7 687.2,2318.6 698,2318.4 708.8,2321 719.6,2325.4 730.5,2331 741.3,2339.8 752.1,2350 762.9,2361.9 773.7,2374.4 784.5,2390.4 795.4,2408.2 806.2,2428.1 817,2447.1 827.8,2466.2 838.6,2482.5 849.4,2499.5 860.2,2519.6 871.1,2539.1 881.9,2557.1 892.7,2574.6 903.5,2589.3 914.3,2602.6 925.1,2612.6 935.9,2622 946.8,2628.1 957.6,2633.4 968.4,2638.5 979.2,2640 990,2641.4 1000.8,2642.3 1011.7,2641.8 1022.5,2641.5 1033.3,2641 1044.1,2639 1054.9,2637.7 1065.7,2636.6 1076.5,2635 1087.4,2633.3 1098.2,2630.8 1109,2628.5 1119.8,2626.5 1130.6,2623.9 1141.4,2622.2 1152.2,2618.9 1163.1,2616.5 1173.9,2613.8 1184.7,2611.1 1195.5,2608.3 1206.3,2605.1 1217.1,2602.2 1228,2599.3 1238.8,2596.1 1249.6,2593.1 1260.4,2590.1 1271.2,2587 1282,2583.8 1292.8,2580.8 1303.7,2577.7 1314.5,2574.8 1325.3,2571.4 1336.1,2568.6 1346.9,2565.6 1357.7,2562.8 1368.5,2559.9 1379.4,2557.2 1390.2,2554.8 1401,2552.2 1411.8,2549.8 1422.6,2547.4 1433.4,2545.2 1444.2,2543.2 1455.1,2541.5 1465.9,2539.5 1476.7,2538.3 1487.5,2536.7 1498.3,2536 1509.1,2534.9 1520,2534.3 1530.8,2534.2 1541.6,2534.2 1552.4,2533.9 1563.2,2533.7 1574,2533.6 1584.8,2534 1595.7,2534.7 1606.5,2535.4 1617.3,2536.4 1628.1,2537.7 1638.9,2539.5 1649.7,2541.7 1660.6,2544.2 1671.4,2546.8 1682.2,2549.7 1693,2552.7 1703.8,2556.1 1714.6,2559.5 1725.4,2563.1 1736.3,2567.2 1747.1,2570.9 1757.9,2575.2 1768.7,2579.5 1779.5,2583.7 1790.3,2588.1 1801.1,2592.4 1812,2596.8 1822.8,2601.5 1833.6,2605.9 1844.4,2610.3 1855.2,2614.7 1866,2618.9 1876.9,2622.8 1887.7,2626.8 1898.5,2630.9 1909.3,2635 1920.1,2638.3 1930.9,2641.8 1941.7,2645.3 1952.6,2648 1963.4,2650.9 1974.2,2653.5 1985,2655.9 1995.8,2658 2006.6,2660 2017.4,2662 2028.3,2663.6 2039.1,2665.3 2049.9,2666.6 2060.7,2667.9 2071.5,2669.2 2082.3,2670.4 2093.2,2671.5 2104,2672.3 2114.8,2673.4 2125.6,2674.1 2136.4,2675.3 2147.2,2676.3 2158,2677.3 2168.9,2678.3 2179.7,2679 2190.5,2680.2 2201.3,2681.6 2204.3,2681.9"/>
<path class="cv" stroke="#fdae80" d="M254.6,2328.4 265.4,2363.4 276.2,2392.7 287,2417.6 297.9,2439.7 308.7,2458.8 319.5,2474.6 330.3,2488.1 341.1,2499 351.9,2507 362.8,2513.1 373.6,2516.4 384.4,2519.8 395.2,2520.8 406,2520.5 416.8,2520 427.6,2518.8 438.5,2516.3 449.3,2511.8 460.1,2508.3 470.9,2503.1 481.7,2495.9 492.5,2487.7 503.3,2480.1 514.2,2469.7 525,2458.5 535.8,2447.7 546.6,2434.4 557.4,2421.8 568.2,2409 579.1,2396.3 589.9,2383.4 600.7,2371.1 611.5,2359 622.3,2347.5 633.1,2337.8 643.9,2330.4 654.8,2323.5 665.6,2317.8 676.4,2314.8 687.2,2311.7 698,2312.1 708.8,2314.4 719.6,2318.3 730.5,2323.9 741.3,2332.8 752.1,2342.9 762.9,2355.4 773.7,2369 784.5,2384.2 795.4,2402.1 806.2,2419.1 817,2438 827.8,2455.7 838.6,2474 849.4,2491.3 860.2,2509 871.1,2526.1 881.9,2543 892.7,2557.5 903.5,2570.5 914.3,2582.8 925.1,2594.1 935.9,2603 946.8,2610 957.6,2615.5 968.4,2619.5 979.2,2623.9 990,2625.8 1000.8,2628.2 1011.7,2629.7 1022.5,2629.5 1033.3,2629.3 1044.1,2628.5 1054.9,2627.8 1065.7,2626.6 1076.5,2626.5 1087.4,2625.2 1098.2,2623.5 1109,2622.4 1119.8,2621.2 1130.6,2620 1141.4,2617.7 1152.2,2616 1163.1,2614.7 1173.9,2612.4 1184.7,2610.2 1195.5,2608.5 1206.3,2605.9 1217.1,2603.4 1228,2600.4 1238.8,2597.8 1249.6,2595 1260.4,2591.9 1271.2,2588.7 1282,2585.8 1292.8,2582.4 1303.7,2579.3 1314.5,2576.5 1325.3,2573.2 1336.1,2570.3 1346.9,2567.2 1357.7,2564.5 1368.5,2562 1379.4,2559.1 1390.2,2557.1 1401,2554.8 1411.8,2552.8 1422.6,2550.8 1433.4,2549 1444.2,2547.6 1455.1,2546 1465.9,2544.9 1476.7,2543.9 1487.5,2542.7 1498.3,2542.2 1509.1,2541.3 1520,2541.2 1530.8,2540.8 1541.6,2540.5 1552.4,2540.8 1563.2,2540.5 1574,2540.4 1584.8,2540.7 1595.7,2541.1 1606.5,2541.9 1617.3,2543.1 1628.1,2544.6 1638.9,2546.3 1649.7,2548.3 1660.6,2550.5 1671.4,2553.1 1682.2,2555.5 1693,2558.3 1703.8,2561.5 1714.6,2564.7 1725.4,2568.1 1736.3,2571.5 1747.1,2575 1757.9,2579 1768.7,2582.8 1779.5,2586.4 1790.3,2590.7 1801.1,2594.7 1812,2598.5 1822.8,2602.9 1833.6,2606.9 1844.4,2610.7 1855.2,2614.7 1866,2619 1876.9,2622.8 1887.7,2626.9 1898.5,2630.2 1909.3,2633.9 1920.1,2637.6 1930.9,2641.2 1941.7,2644.3 1952.6,2647.2 1963.4,2650.1 1974.2,2652.8 1985,2655.7 1995.8,2658.1 2006.6,2660 2017.4,2662.2 2028.3,2664 2039.1,2665.7 2049.9,2667.2 2060.7,2668.4 2071.5,2670 2082.3,2671 2093.2,2672.1 2104,2673.2 2114.8,2674 2125.6,2675.3 2136.4,2675.9 2147.2,2676.9 2158,2677.5 2168.9,2678.6 2179.7,2679.1 2190.5,2680.2 2201.3,2680.8 2204.3,2681.1"/>
<path class="cv" stroke="#fecbaf" d="M254.6,2319.6 265.4,2360.2 276.2,2393.9 287,2421.7 297.9,2443.8 308.7,2459.4 319.5,2471.8 330.3,2483.3 341.1,2493.8 351.9,2502.8 362.8,2508.2 373.6,2514.6 384.4,2517.7 395.2,2519.7 406,2521.7 416.8,2521.2 427.6,2519.6 438.5,2516.4 449.3,2513.5 460.1,2507.6 470.9,2501.9 481.7,2495.1 492.5,2486.8 503.3,2478.2 514.2,2468.2 525,2457.6 535.8,2446.4 546.6,2435.4 557.4,2422 568.2,2407.9 579.1,2395.3 589.9,2381.2 600.7,2370 611.5,2357.8 622.3,2346.7 633.1,2337 643.9,2329.6 654.8,2322.3 665.6,2317 676.4,2312.9 687.2,2311.5 698,2311.5 708.8,2313.6 719.6,2317.8 730.5,2323.4 741.3,2332.2 752.1,2341.4 762.9,2352.9 773.7,2366.1 784.5,2380.8 795.4,2397.9 806.2,2416.5 817,2434.2 827.8,2453.4 838.6,2471.2 849.4,2490.8 860.2,2507.9 871.1,2525.6 881.9,2541.2 892.7,2554.7 903.5,2568.3 914.3,2579.2 925.1,2588.7 935.9,2596.1 946.8,2603.4 957.6,2608.8 968.4,2612.6 979.2,2615.2 990,2618.5 1000.8,2619.9 1011.7,2621.3 1022.5,2623.3 1033.3,2623.4 1044.1,2624 1054.9,2624.3 1065.7,2623.3 1076.5,2623.2 1087.4,2622.7 1098.2,2622.5 1109,2621.3 1119.8,2619.8 1130.6,2619 1141.4,2616.7 1152.2,2615.4 1163.1,2613.1 1173.9,2611.7 1184.7,2609.4 1195.5,2606.9 1206.3,2604.9 1217.1,2602.4 1228,2599.6 1238.8,2597.3 1249.6,2594.4 1260.4,2592.1 1271.2,2589.2 1282,2586.5 1292.8,2584.1 1303.7,2581.4 1314.5,2578.9 1325.3,2576.2 1336.1,2573.3 1346.9,2570.9 1357.7,2568.3 1368.5,2565.5 1379.4,2563.5 1390.2,2560.9 1401,2558.6 1411.8,2556.5 1422.6,2554.5 1433.4,2553 1444.2,2551.3 1455.1,2549.6 1465.9,2548.3 1476.7,2546.8 1487.5,2545.9 1498.3,2544.6 1509.1,2543.8 1520,2543 1530.8,2542.4 1541.6,2542.2 1552.4,2542 1563.2,2542.1 1574,2542.4 1584.8,2542.4 1595.7,2543.2 1606.5,2544.2 1617.3,2545.9 1628.1,2547.3 1638.9,2549.5 1649.7,2551.8 1660.6,2554.4 1671.4,2556.8 1682.2,2559.6 1693,2562.6 1703.8,2565.4 1714.6,2568.9 1725.4,2571.9 1736.3,2575.5 1747.1,2578.8 1757.9,2582.1 1768.7,2585.8 1779.5,2589.2 1790.3,2593.1 1801.1,2596.8 1812,2600.2 1822.8,2604.1 1833.6,2607.9 1844.4,2611.4 1855.2,2615.2 1866,2619 1876.9,2622.3 1887.7,2626 1898.5,2629.2 1909.3,2632.6 1920.1,2635.8 1930.9,2639 1941.7,2642.4 1952.6,2645.2 1963.4,2648 1974.2,2650.8 1985,2653.6 1995.8,2656.1 2006.6,2658.5 2017.4,2660.9 2028.3,2663.1 2039.1,2665 2049.9,2667.3 2060.7,2669.1 2071.5,2670.7 2082.3,2672.1 2093.2,2673.5 2104,2674.9 2114.8,2675.8 2125.6,2676.8 2136.4,2677.5 2147.2,2678.3 2158,2678.8 2168.9,2679 2179.7,2679.3 2190.5,2679.2 2201.3,2679.1 2204.3,2679.4"/>
</g>
<text transform="translate(201.6,2702.9) scale(1,1.03)" text-anchor="end">0.0</text>
<text transform="translate(201.6,2565.6) scale(1,1.03)" text-anchor="end">0.5</text>
<text transform="translate(201.6,2428.3) scale(1,1.03)" text-anchor="end">1.0</text>
<text transform="translate(201.6,2291.1) scale(1,1.03)" text-anchor="end">1.5</text>
<text transform="translate(201.6,2153.8) scale(1,1.03)" text-anchor="end">2.0</text>
<text transform="translate(201.6,2016.5) scale(1,1.03)" text-anchor="end">2.5</text>
<text transform="translate(254.6,2774.5) scale(1,1.03)" text-anchor="middle">220</text>
<text transform="translate(470.9,2774.5) scale(1,1.03)" text-anchor="middle">240</text>
<text transform="translate(687.2,2774.5) scale(1,1.03)" text-anchor="middle">260</text>
<text transform="translate(903.5,2774.5) scale(1,1.03)" text-anchor="middle">280</text>
<text transform="translate(1119.8,2774.5) scale(1,1.03)" text-anchor="middle">300</text>
<text transform="translate(1336.1,2774.5) scale(1,1.03)" text-anchor="middle">320</text>
<text transform="translate(1552.4,2774.5) scale(1,1.03)" text-anchor="middle">340</text>
<text transform="translate(1768.7,2774.5) scale(1,1.03)" text-anchor="middle">360</text>
<text transform="translate(1985,2774.5) scale(1,1.03)" text-anchor="middle">380</text>
<text transform="translate(2201.3,2774.5) scale(1,1.03)" text-anchor="middle">400</text>
<text transform="translate(1154,2853.1) scale(1,1.03)" class="al" text-anchor="middle">Wavelength (nm)</text>
<text transform="translate(99.5,2382.5) rotate(-90) scale(1,1.03)" class="al" text-anchor="middle">Absorbance (a.u.)</text>
<text transform="translate(26,2004.5) scale(1,1.03)" class="pl">C.</text>
<text transform="translate(1140.9,2072.1) scale(1,1.03)" class="ti" text-anchor="middle">Tris</text>
<text transform="translate(690.5,2150.3) scale(1,1.03)" class="an" text-anchor="middle">260 nm</text>
<path d="M690.4,2290.3V2204.1" stroke="#000" stroke-width="5.6" fill="none"/>
<path d="M690.4,2174.8L674.7,2205.1L706.1,2205.1Z" fill="#000"/>
<text transform="translate(1550.8,2369.8) scale(1,1.03)" class="an" text-anchor="middle">340 nm</text>
<path d="M1550.3,2395.7V2476.2" stroke="#000" stroke-width="5.6" fill="none"/>
<path d="M1550.3,2505.5L1534.6,2475.2L1566,2475.2Z" fill="#000"/>
<path class="lg" stroke="#000000" d="M1843.1,2057.8H1939.4"/>
<text transform="translate(1950.4,2076.3) scale(1,1.03)">0 Days</text>
<path class="lg" stroke="#96360f" d="M1843.1,2119.1H1939.4"/>
<text transform="translate(1950.4,2137.6) scale(1,1.03)">6 Days</text>
<path class="lg" stroke="#e05a1e" d="M1843.1,2180.4H1939.4"/>
<text transform="translate(1950.4,2198.9) scale(1,1.03)">13 Days</text>
<path class="lg" stroke="#fdae80" d="M1843.1,2241.7H1939.4"/>
<text transform="translate(1950.4,2260.2) scale(1,1.03)">34 Days</text>
<path class="lg" stroke="#fecbaf" d="M1843.1,2303H1939.4"/>
<text transform="translate(1950.4,2321.5) scale(1,1.03)">43 Days</text>
</g>
</svg></body></html>
